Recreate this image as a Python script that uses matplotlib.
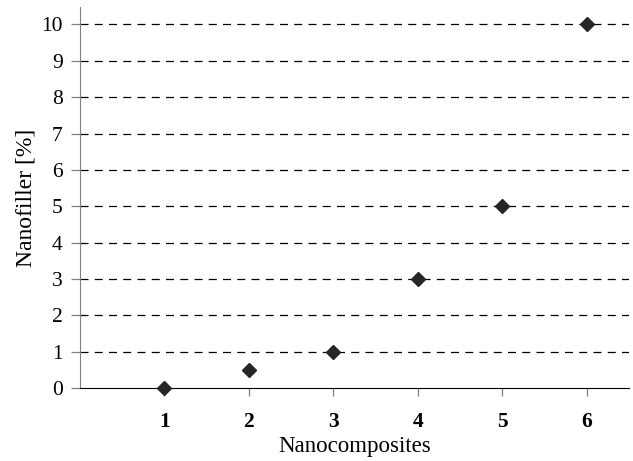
import matplotlib
matplotlib.use("Agg")
import matplotlib.pyplot as plt
from matplotlib.transforms import ScaledTranslation

composites = [1, 2, 3, 4, 5, 6]
nanofiller = [0, 0.5, 1, 3, 5, 10]
xtick_labels = ["1", "2", "3", "4", "5", "6"]
yticks = list(range(0, 11))

plt.rcParams['font.family'] = ['Liberation Serif', 'DejaVu Serif']

fig = plt.figure(figsize=(6.33, 4.61), dpi=100)
ax = fig.add_axes([80/633, 1-388/461, (629-80)/633, (388-7)/461])

for y in yticks[1:]:
    ax.axhline(y, color='black', lw=0.9, ls=(0, (6.4, 5.0)), zorder=1)

ax.plot(composites, nanofiller, ls='none', marker='D', ms=7.5, color='#262626', zorder=3, clip_on=False)

ax.set_xlim(0, 6.5)
ax.set_ylim(0, 10.48)
ax.set_xticks(composites)
ax.set_xticklabels(xtick_labels, fontweight='bold', fontsize=15.5)
ax.set_yticks(yticks)
ax.set_yticklabels([str(v) for v in yticks], fontsize=15.5)

off = ScaledTranslation(-4/100, 0, fig.dpi_scale_trans)
for lbl in ax.get_xticklabels():
    lbl.set_transform(lbl.get_transform() + off)

for s in ['top', 'right']:
    ax.spines[s].set_visible(False)
ax.spines['left'].set_color('#808080')
ax.spines['bottom'].set_color('black')
ax.tick_params(axis='x', direction='out', length=6, width=0.9, color='#808080', pad=11.5)
ax.tick_params(axis='y', direction='out', length=6.5, width=0.9, color='#808080', pad=6)

ax.set_xlabel('Nanocomposites', fontsize=16.5, labelpad=3)
ax.set_ylabel('Nanofiller [%]', fontsize=17, labelpad=3)

fig.savefig('out.png', dpi=100)
